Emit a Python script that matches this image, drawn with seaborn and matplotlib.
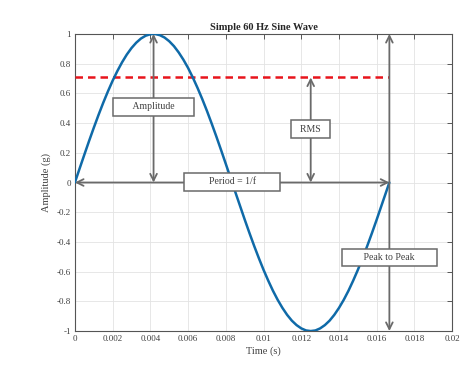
import matplotlib
matplotlib.use("Agg")
import matplotlib.pyplot as plt
import seaborn as sns
import pandas as pd

# values
time_s = [0, 0.00025, 0.0005, 0.00075, 0.001, 0.00125, 0.0015, 0.00175, 0.002,
          0.00225, 0.0025, 0.00275, 0.003, 0.00325, 0.0035, 0.00375, 0.004,
          0.00417, 0.00425, 0.0045, 0.00475, 0.005, 0.00525, 0.0055, 0.00575,
          0.006, 0.00625, 0.0065, 0.00675, 0.007, 0.00725, 0.0075, 0.00775,
          0.008, 0.00825, 0.0085, 0.00875, 0.009, 0.00925, 0.0095, 0.00975,
          0.01, 0.01025, 0.0105, 0.01075, 0.011, 0.01125, 0.0115, 0.01175,
          0.012, 0.01225, 0.0125, 0.01275, 0.013, 0.01325, 0.0135, 0.01375,
          0.014, 0.01425, 0.0145, 0.01475, 0.015, 0.01525, 0.0155, 0.01575,
          0.016, 0.01625, 0.0165, 0.01667]
amplitude = [0, 0.094, 0.187, 0.279, 0.368, 0.454, 0.536, 0.613, 0.685,
             0.750, 0.809, 0.861, 0.905, 0.941, 0.969, 0.988, 0.998,
             1.0, 0.9995, 0.992, 0.976, 0.951, 0.918, 0.876, 0.827,
             0.771, 0.707, 0.637, 0.562, 0.482, 0.397, 0.309, 0.218,
             0.125, 0.031, -0.063, -0.156, -0.249, -0.339, -0.426, -0.509,
             -0.588, -0.661, -0.729, -0.790, -0.844, -0.891, -0.930, -0.960,
             -0.982, -0.996, -1.0, -0.996, -0.982, -0.960, -0.930, -0.891,
             -0.844, -0.790, -0.729, -0.661, -0.588, -0.509, -0.426, -0.339,
             -0.249, -0.156, -0.063, 0]
rms_x = [0, 0.01667]
rms_y = [0.707, 0.707]
x_ticks = [0, 0.002, 0.004, 0.006, 0.008, 0.01, 0.012, 0.014, 0.016, 0.018, 0.02]
x_labels = ["0", "0.002", "0.004", "0.006", "0.008", "0.01", "0.012", "0.014", "0.016", "0.018", "0.02"]
y_ticks = [-1, -0.8, -0.6, -0.4, -0.2, 0, 0.2, 0.4, 0.6, 0.8, 1]
y_labels = ["-1", "-0.8", "-0.6", "-0.4", "-0.2", "0", "0.2", "0.4", "0.6", "0.8", "1"]

sns.set_style("white")
plt.rcParams["font.family"] = ["Liberation Serif", "DejaVu Serif"]

GRAY = "#6a6a6a"
TXT = "#404040"

df = pd.DataFrame({"t": time_s, "a": amplitude})
rms = pd.DataFrame({"t": rms_x, "a": rms_y})

fig = plt.figure(figsize=(4.74, 3.65), dpi=100)
ax = fig.add_axes([0.158, 0.093, 0.796, 0.814])

ax.grid(True, color="#e3e3e3", linewidth=0.6)
ax.set_axisbelow(True)

sns.lineplot(data=rms, x="t", y="a", ax=ax, color="#e8141c", linewidth=1.8,
             linestyle=(0, (3, 2)), zorder=3)
sns.lineplot(data=df, x="t", y="a", ax=ax, sort=False, color="#0f6aa8",
             linewidth=1.8, zorder=4)

arrow = dict(arrowstyle="<->", color=GRAY, lw=1.3, shrinkA=0, shrinkB=0,
             mutation_scale=12)
# amplitude
ax.annotate("", xy=(0.00417, 1.0), xytext=(0.00417, 0), arrowprops=arrow, zorder=5)
# period
ax.annotate("", xy=(0, 0), xytext=(0.01667, 0), arrowprops=arrow, zorder=5)
# rms
ax.annotate("", xy=(0.0125, 0.707), xytext=(0.0125, 0), arrowprops=arrow, zorder=5)
# peak to peak
ax.annotate("", xy=(0.01667, 1.0), xytext=(0.01667, -1.0), arrowprops=arrow, zorder=5)

box = dict(boxstyle="square,pad=0.45", facecolor="white", edgecolor=GRAY, lw=1.1)
labels = [
    (0.00417, 0.51, "      Amplitude      "),
    (0.00834, 0.005, "        Period = 1/f        "),
    (0.0125, 0.36, "  RMS  "),
    (0.01667, -0.505, "       Peak to Peak       "),
]
for x, y, s in labels:
    ax.text(x, y, s, ha="center", va="center", fontsize=7, color=TXT,
            bbox=box, zorder=6)

ax.set_xlim(0, 0.02)
ax.set_ylim(-1, 1)
ax.set_xticks(x_ticks)
ax.set_xticklabels(x_labels)
ax.set_yticks(y_ticks)
ax.set_yticklabels(y_labels)
ax.tick_params(direction="in", length=3.5, width=0.6, labelsize=6.5,
               colors=TXT, top=True, right=True, pad=3)
for sp in ax.spines.values():
    sp.set_color("#555555")
    sp.set_linewidth(0.8)

ax.set_xlabel("Time (s)", fontsize=7.5, color=TXT, labelpad=2)
ax.set_ylabel("Amplitude (g)", fontsize=7.5, color=TXT, labelpad=4)
ax.set_title("Simple 60 Hz Sine Wave", fontsize=7.5, fontweight="bold", pad=3)

fig.savefig("out.png", dpi=100)
